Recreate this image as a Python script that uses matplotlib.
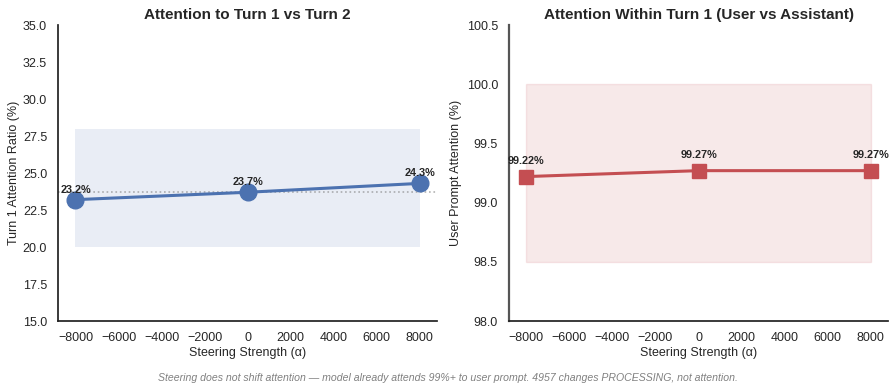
import matplotlib
matplotlib.use("Agg")
import matplotlib.pyplot as plt
import seaborn as sns

sns.set_theme(style="white")
plt.rcParams['font.family'] = ['Liberation Sans', 'DejaVu Sans']

# data
alphas = [-8000, 0, 8000]
turn1_ratio = [23.2, 23.7, 24.3]
user_attn = [99.22, 99.27, 99.27]

blue = '#4C72B0'
red = '#C44E52'

fig, (ax1, ax2) = plt.subplots(1, 2, figsize=(8.96, 3.91), dpi=100)
fig.subplots_adjust(left=0.065, right=0.991, top=0.936, bottom=0.179, wspace=0.19)

# Turn 1 vs Turn 2
ax1.fill_between([alphas[0], alphas[-1]], 20, 28, color=blue, alpha=0.12, lw=0)
ax1.axhline(turn1_ratio[1], color='gray', ls=':', lw=1.2, alpha=0.6)
ax1.plot(alphas, turn1_ratio, '-o', color=blue, lw=2.2, ms=12)
for x, y in zip(alphas, turn1_ratio):
    ax1.annotate(f'{y:.1f}%', (x, y), xytext=(0, 5), textcoords='offset points',
                 ha='center', fontsize=7.8, fontweight='bold')
ax1.set_ylim(15, 35)
ax1.set_title('Attention to Turn 1 vs Turn 2', fontsize=11, fontweight='bold', pad=4)
ax1.set_xlabel('Steering Strength (α)', fontsize=9, labelpad=2)
ax1.set_ylabel('Turn 1 Attention Ratio (%)', fontsize=9, labelpad=2)

# within Turn 1
ax2.fill_between([alphas[0], alphas[-1]], 98.5, 100.0, color=red, alpha=0.12, lw=1)
ax2.plot(alphas, user_attn, '-s', color=red, lw=2.2, ms=10)
for x, y in zip(alphas, user_attn):
    ax2.annotate(f'{y:.2f}%', (x, y), xytext=(0, 9), textcoords='offset points',
                 ha='center', fontsize=7.8, fontweight='bold')
ax2.set_ylim(98.0, 100.5)
ax2.set_yticks([98.0, 98.5, 99.0, 99.5, 100.0, 100.5])
ax2.set_title('Attention Within Turn 1 (User vs Assistant)', fontsize=11, fontweight='bold', pad=4)
ax2.set_xlabel('Steering Strength (α)', fontsize=9, labelpad=2)
ax2.set_ylabel('User Prompt Attention (%)', fontsize=9, labelpad=3)

for ax in (ax1, ax2):
    ax.tick_params(labelsize=9, pad=2)
    ax.spines['left'].set_color('#222222')
    ax.spines['bottom'].set_color('#222222')
    sns.despine(ax=ax)
ax2.spines['left'].set_color('#555555')
ax2.spines['left'].set_linewidth(1.6)

fig.text(0.5, 0.025, 'Steering does not shift attention — model already attends 99%+ to user prompt. 4957 changes PROCESSING, not attention.',
         ha='center', fontsize=7.6, style='italic', color='gray')

fig.savefig('out.png', dpi=100)
